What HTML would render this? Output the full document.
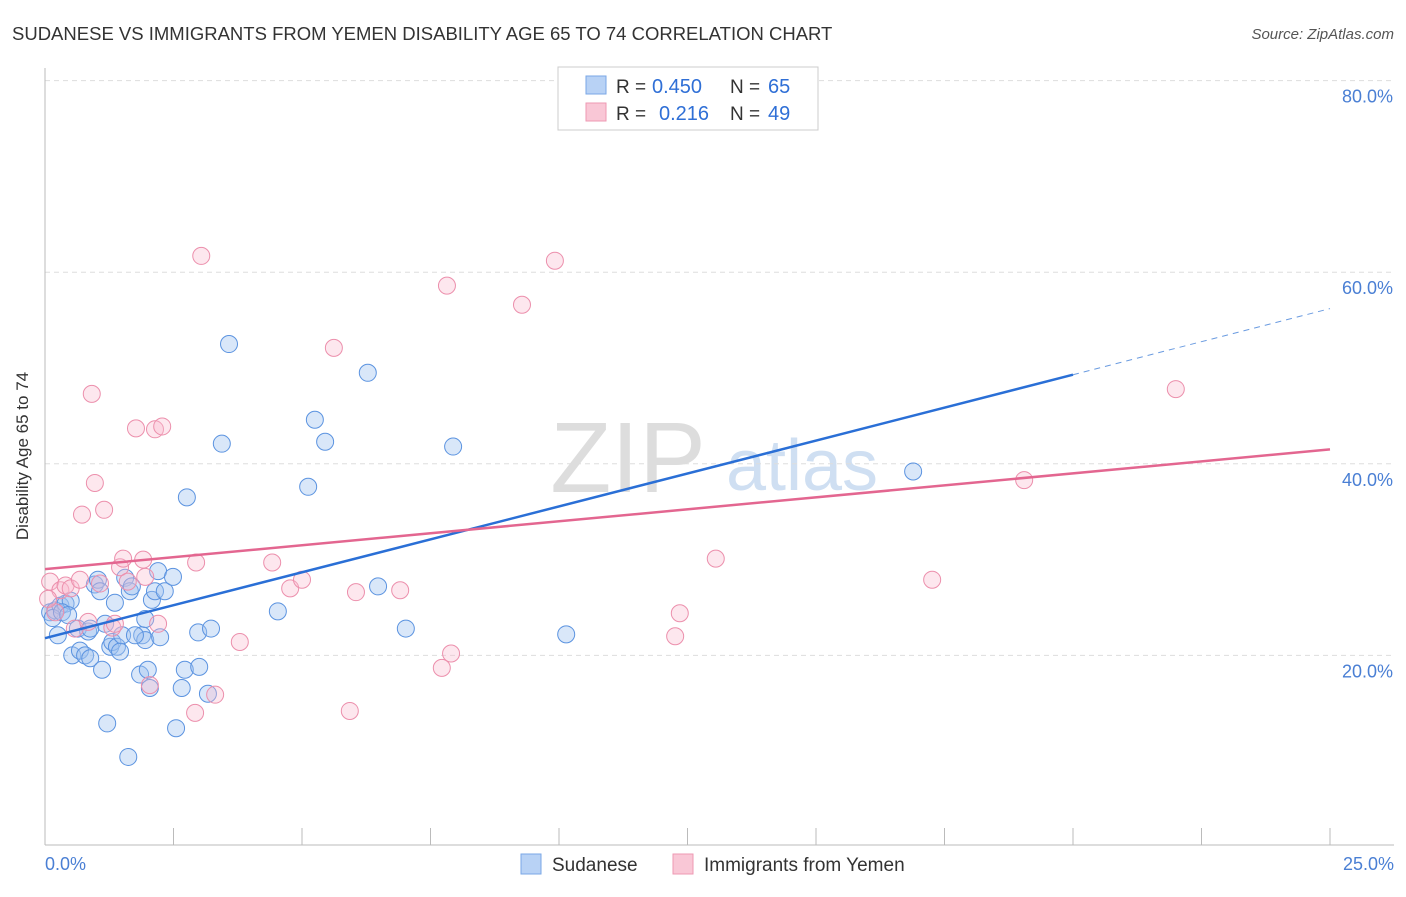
<!DOCTYPE html>
<html><head><meta charset="utf-8"><style>
body{margin:0;background:#fff;font-family:"Liberation Sans",sans-serif;}
svg text{font-family:"Liberation Sans",sans-serif;}
</style></head><body>
<svg id="chart" width="1406" height="892">
<text x="12" y="40" font-size="18.5" fill="#333">SUDANESE VS IMMIGRANTS FROM YEMEN DISABILITY AGE 65 TO 74 CORRELATION CHART</text>
<text x="1394" y="39" font-size="15" fill="#555" font-style="italic" text-anchor="end">Source: ZipAtlas.com</text>
<text x="628" y="492" font-size="100" fill="#ddd" font-family="Liberation Serif" text-anchor="middle">ZIP</text>
<text x="802" y="490" font-size="72" fill="#cfdff2" text-anchor="middle">atlas</text>
<g id="grid"></g>
<line x1="45" y1="68" x2="45" y2="845" stroke="#bbb"/>
<line x1="45" y1="845" x2="1394" y2="845" stroke="#bbb"/>
<g id="xticks"></g>
<text x="28" y="456" font-size="17" fill="#333" text-anchor="middle" transform="rotate(-90 28 456)">Disability Age 65 to 74</text>
<text x="45" y="870" font-size="18" fill="#4a7fd4">0.0%</text>
<text x="1394" y="870" font-size="18" fill="#4a7fd4" text-anchor="end">25.0%</text>
<g id="pts"></g>
<g id="lines"></g>
<g>
<rect x="558" y="67" width="260" height="63" fill="#fff" stroke="#ccc"/>
<rect x="586" y="76" width="20" height="18" fill="#b8d2f5" stroke="#7aa7e6"/>
<rect x="586" y="103" width="20" height="18" fill="#f9c7d6" stroke="#ee99b3"/>
<text x="616" y="93" font-size="19" fill="#333">R =</text>
<text x="652" y="93" font-size="20" fill="#2f6fd6">0.450</text>
<text x="730" y="93" font-size="19" fill="#333">N =</text>
<text x="768" y="93" font-size="20" fill="#2f6fd6">65</text>
<text x="616" y="120" font-size="19" fill="#333">R =</text>
<text x="659" y="120" font-size="20" fill="#2f6fd6">0.216</text>
<text x="730" y="120" font-size="19" fill="#333">N =</text>
<text x="768" y="120" font-size="20" fill="#2f6fd6">49</text>
</g>
<g>
<rect x="521" y="854" width="20" height="20" fill="#b8d2f5" stroke="#7aa7e6"/>
<text x="552" y="871" font-size="19" fill="#333">Sudanese</text>
<rect x="673" y="854" width="20" height="20" fill="#f9c7d6" stroke="#ee99b3"/>
<text x="704" y="871" font-size="19" fill="#333">Immigrants from Yemen</text>
</g>
</svg>
<script>
const yTicks=[20,40,60,80];
const xTickVals=[0,2.5,5,7.5,10,12.5,15,17.5,20,22.5,25];
const sudX=[0.1,0.2,0.3,0.4,0.5,0.15,0.25,0.33,0.45,0.53,0.64,0.68,0.78,0.84,0.88,0.97,1.03,1.07,1.11,1.17,1.21,1.27,1.31,1.36,1.4,1.46,1.5,1.56,1.62,1.65,1.69,1.85,1.89,1.95,2.0,2.04,2.08,2.14,2.2,2.24,2.33,2.49,2.55,2.66,2.72,2.76,2.98,3.0,3.17,3.23,3.44,3.58,4.53,5.12,5.25,5.45,6.28,6.48,7.02,7.94,10.14,16.89,1.95,1.75,0.88];
const sudY=[24.5,24.7,25.2,25.4,25.7,23.9,22.1,24.5,24.2,20.0,22.8,20.5,20.0,22.5,19.7,27.4,27.9,26.7,18.5,23.3,12.9,20.9,21.4,25.5,20.9,20.4,22.1,28.1,9.4,26.7,27.2,18.0,22.1,21.6,18.5,16.6,25.8,26.7,28.8,21.9,26.7,28.2,12.4,16.6,18.5,36.5,22.4,18.8,16.0,22.8,42.1,52.5,24.6,37.6,44.6,42.3,49.5,27.2,22.8,41.8,22.2,39.2,23.8,22.1,22.8];
const yemX=[0.1,0.2,0.3,0.4,0.5,0.58,0.68,0.72,0.84,0.97,0.91,1.07,1.15,1.31,1.36,1.46,1.52,1.61,1.77,1.91,1.95,2.04,2.14,2.28,2.2,2.94,2.92,3.04,3.31,3.79,4.42,4.77,5.0,5.62,5.93,6.05,6.91,7.72,7.82,7.9,9.28,9.92,12.26,12.35,13.05,17.26,19.05,22.0,0.06];
const yemY=[27.7,24.5,26.8,27.3,27.0,22.8,27.9,34.7,23.5,38.0,47.3,27.5,35.2,22.9,23.3,29.2,30.1,27.7,43.7,30.0,28.2,16.9,43.6,43.9,23.3,29.7,14.0,61.7,15.9,21.4,29.7,27.0,27.9,52.1,14.2,26.6,26.8,18.7,58.6,20.2,56.6,61.2,22.0,24.4,30.1,27.9,38.3,47.8,25.9];
const blueFit=[21.8,49.3,56.2];
const pinkFit=[29.0,41.5];
const NS='http://www.w3.org/2000/svg';
const X=v=>45+v*51.4, Y=v=>847-v*9.58;
function mk(t,a,p){const e=document.createElementNS(NS,t);for(const k in a)e.setAttribute(k,a[k]);p.appendChild(e);return e;}
const grid=document.getElementById('grid');
yTicks.forEach(t=>{
 const l=mk('line',{x1:45,x2:1394,y1:Y(t),y2:Y(t),stroke:'#ddd','stroke-dasharray':'5,4'},grid);
 
 
 const tx=mk('text',{x:1393,y:Y(t)+22,'font-size':18,fill:'#4a7fd4','text-anchor':'end'},grid);
 tx.textContent=t.toFixed(1)+'%';
 
 
});
const xt=document.getElementById('xticks');
xTickVals.forEach(v=>{
 const l=mk('line',{x1:X(v),x2:X(v),y1:828,y2:845,stroke:'#bbb'},xt);
 
 
});
const pts=document.getElementById('pts');
sudX.forEach((v,i)=>{
 const c=mk('circle',{cx:X(v),cy:Y(sudY[i]),r:8.5,fill:'rgba(160,196,240,0.4)',stroke:'#5b93e0','stroke-width':1},pts);
 
 
});
yemX.forEach((v,i)=>{
 const c=mk('circle',{cx:X(v),cy:Y(yemY[i]),r:8.5,fill:'rgba(248,185,205,0.35)',stroke:'#ec8fac','stroke-width':1},pts);
 
 
});
const ln=document.getElementById('lines');
let a=mk('line',{x1:X(0),y1:Y(blueFit[0]),x2:X(20),y2:Y(blueFit[1]),stroke:'#2a6fd6','stroke-width':2.5},ln);


a=mk('line',{x1:X(20),y1:Y(blueFit[1]),x2:X(25),y2:Y(blueFit[2]),stroke:'#6a9be0','stroke-width':1,'stroke-dasharray':'6,5'},ln);


a=mk('line',{x1:X(0),y1:Y(pinkFit[0]),x2:X(25),y2:Y(pinkFit[1]),stroke:'#e36690','stroke-width':2.5},ln);


</script>
</body></html>
